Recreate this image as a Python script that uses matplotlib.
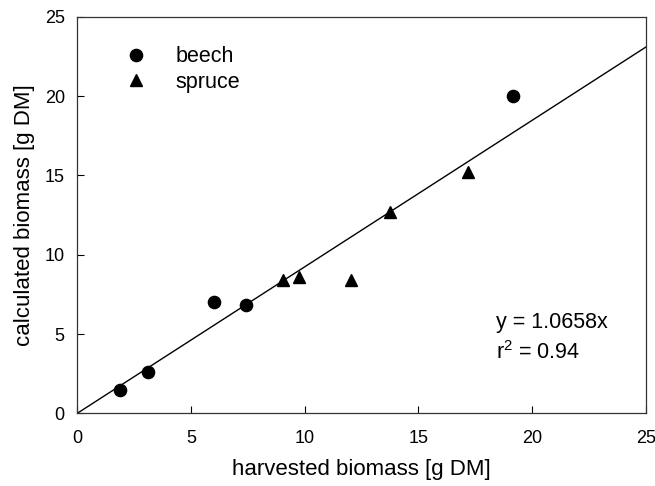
import matplotlib
matplotlib.use("Agg")
import matplotlib.pyplot as plt

plt.rcParams['font.family'] = ['Liberation Sans', 'DejaVu Sans']
plt.rcParams['mathtext.fontset'] = 'custom'
plt.rcParams['mathtext.rm'] = 'Liberation Sans'

# data
beech_x = [1.9, 3.1, 6.0, 7.4, 19.15]
beech_y = [1.5, 2.6, 7.05, 6.8, 20.0]
spruce_x = [9.05, 9.75, 12.05, 13.75, 17.2]
spruce_y = [8.4, 8.6, 8.4, 12.7, 15.25]
fit_x = [0, 25]
fit_y = [0, 23.1]

fig = plt.figure(figsize=(6.55, 4.86), dpi=100)
ax = fig.add_axes([0.118, 0.1496, 0.868, 0.8155])

ax.plot(fit_x, fit_y, color='black', lw=1.0, zorder=2)
ax.plot(beech_x, beech_y, 'o', color='black', ms=8.8, label='beech', zorder=3)
ax.plot(spruce_x, spruce_y, '^', color='black', ms=9, label='spruce', zorder=3)

ax.set_xlim(0, 25)
ax.set_ylim(0, 25)
ax.set_xticks([0, 5, 10, 15, 20, 25])
ax.set_yticks([0, 5, 10, 15, 20, 25])
ax.tick_params(direction='in', length=5, width=0.8, labelsize=13,
               top=False, right=False)
ax.tick_params(axis='x', pad=12)
ax.tick_params(axis='y', pad=9)
for s in ax.spines.values():
    s.set_linewidth(0.9)
    s.set_color('#333333')

ax.set_xlabel('harvested biomass [g DM]', fontsize=16, labelpad=9)
ax.set_ylabel('calculated biomass [g DM]', fontsize=16, labelpad=7)

ax.legend(loc='upper left', bbox_to_anchor=(0.04, 0.975), frameon=False,
          fontsize=15.5, handletextpad=1.1, labelspacing=0.2, handlelength=1.5)

ax.text(0.737, 0.255, 'y = 1.0658x', transform=ax.transAxes, fontsize=15.5, va='top')
ax.text(0.737, 0.183, r'$\mathregular{r^2}$ = 0.94', transform=ax.transAxes, fontsize=15.5, va='top')

fig.savefig('out.png', dpi=100)
